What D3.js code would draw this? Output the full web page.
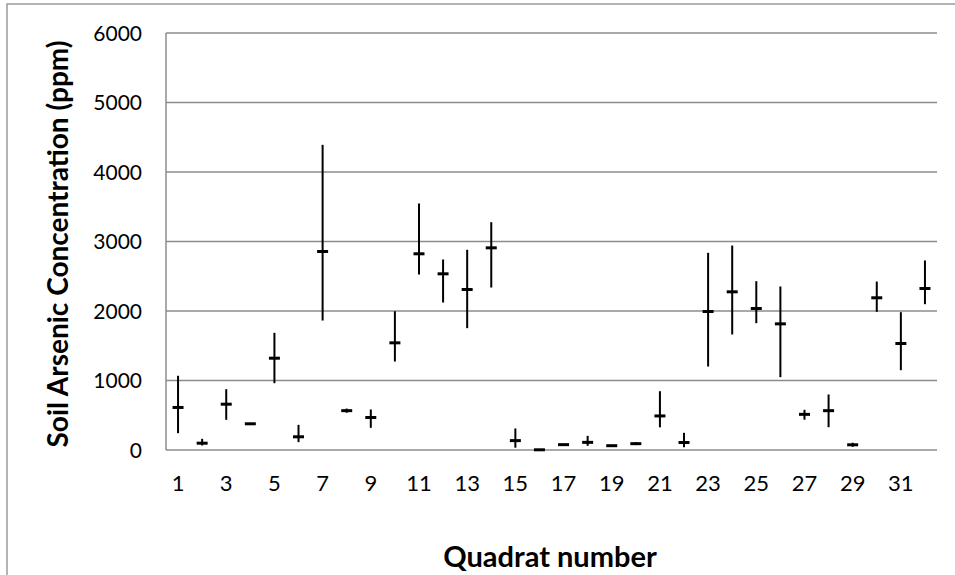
<!DOCTYPE html>
<html>
<head>
<meta charset="utf-8">
<script src="https://cdn.jsdelivr.net/npm/d3@7"></script>
<style>
  body { margin: 0; background: #fff; }
  text { font-family: Lato, "Open Sans", sans-serif; fill: #000; }
</style>
</head>
<body>
<div id="viz"></div>
<script>
// quadrat numbers 1..32
var quadrats = d3.range(1, 33);
// mean arsenic (ppm) per quadrat
var means = [612, 98, 659, 377, 1321, 190, 2856, 566, 468, 1542,
             2823, 2535, 2309, 2909, 135, 3, 77, 110, 62, 91,
             490, 108, 1993, 2276, 2036, 1815, 513, 566, 75, 2190,
             1532, 2324];
// top of error bar
var highs = [1068, 161, 875, 392, 1686, 362, 4391, 596, 583, 1997,
             3547, 2741, 2881, 3278, 310, 3, 77, 204, 62, 111,
             846, 247, 2837, 2942, 2429, 2353, 578, 799, 105, 2424,
             1983, 2727];
// bottom of error bar
var lows = [242, 65, 434, 362, 961, 113, 1863, 536, 319, 1273,
            2525, 2122, 1753, 2338, 33, 3, 77, 60, 62, 71,
            326, 40, 1201, 1662, 1825, 1048, 436, 328, 45, 1988,
            1148, 2098];
var yTicks = [0, 1000, 2000, 3000, 4000, 5000, 6000];

var W = 955, H = 575,
    margin = {top: 33, left: 166, right: 18, bottom: 125},
    width = W - margin.left - margin.right,
    height = H - margin.top - margin.bottom;

var svg = d3.select("#viz").append("svg")
    .attr("width", W)
    .attr("height", H);

// outer chart frame
svg.append("rect")
    .attr("x", 7).attr("y", 4)
    .attr("width", W).attr("height", H)
    .attr("fill", "none")
    .attr("stroke", "#8c8c8c")
    .attr("stroke-width", 1.3);

var g = svg.append("g")
    .attr("transform", "translate(" + margin.left + "," + margin.top + ")");

var x = d3.scaleBand().domain(quadrats).range([0, width]);
var y = d3.scaleLinear().domain([0, 6000]).range([height, 0]);

// gridlines
g.selectAll(".grid").data(yTicks).enter().append("line")
    .attr("x1", 0).attr("x2", width)
    .attr("y1", function(d){ return y(d); })
    .attr("y2", function(d){ return y(d); })
    .attr("stroke", "#8c8c8c")
    .attr("stroke-width", 1.5);

// left axis line
g.append("line")
    .attr("x1", 0).attr("x2", 0)
    .attr("y1", 0).attr("y2", height)
    .attr("stroke", "#8c8c8c")
    .attr("stroke-width", 1.5);

// y tick labels
g.selectAll(".ylab").data(yTicks).enter().append("text")
    .attr("x", -24)
    .attr("y", function(d){ return y(d); })
    .attr("dy", "0.36em")
    .attr("text-anchor", "end")
    .style("font-size", "21px")
    .text(function(d){ return d; });

// x tick labels, odd quadrats only
g.selectAll(".xlab").data(quadrats.filter(function(d){ return d % 2 == 1; })).enter().append("text")
    .attr("x", function(d){ return x(d) + x.bandwidth() / 2; })
    .attr("y", height + 33)
    .attr("dy", "0.36em")
    .attr("text-anchor", "middle")
    .style("font-size", "22px")
    .text(function(d){ return d; });

// error bars
var pts = quadrats.map(function(q, i){ return {q: q, m: means[i], hi: highs[i], lo: lows[i]}; });

g.selectAll(".err").data(pts).enter().append("line")
    .attr("x1", function(d){ return x(d.q) + x.bandwidth() / 2; })
    .attr("x2", function(d){ return x(d.q) + x.bandwidth() / 2; })
    .attr("y1", function(d){ return y(d.hi); })
    .attr("y2", function(d){ return y(d.lo); })
    .attr("stroke", "#000")
    .attr("stroke-width", 2);

// mean dash markers
g.selectAll(".mean").data(pts).enter().append("line")
    .attr("x1", function(d){ return x(d.q) + x.bandwidth() / 2 - 5.5; })
    .attr("x2", function(d){ return x(d.q) + x.bandwidth() / 2 + 5.5; })
    .attr("y1", function(d){ return y(d.m); })
    .attr("y2", function(d){ return y(d.m); })
    .attr("stroke", "#000")
    .attr("stroke-width", 3);

// axis titles
svg.append("text")
    .attr("transform", "translate(58,244) rotate(-90)")
    .attr("dy", "0.35em")
    .attr("text-anchor", "middle")
    .style("font-size", "28px")
    .style("font-weight", "bold")
    .text("Soil Arsenic Concentration (ppm)");

svg.append("text")
    .attr("x", 550)
    .attr("y", 557)
    .attr("dy", "0.36em")
    .attr("text-anchor", "middle")
    .style("font-size", "29px")
    .style("font-weight", "bold")
    .text("Quadrat number");
</script>
</body>
</html>
